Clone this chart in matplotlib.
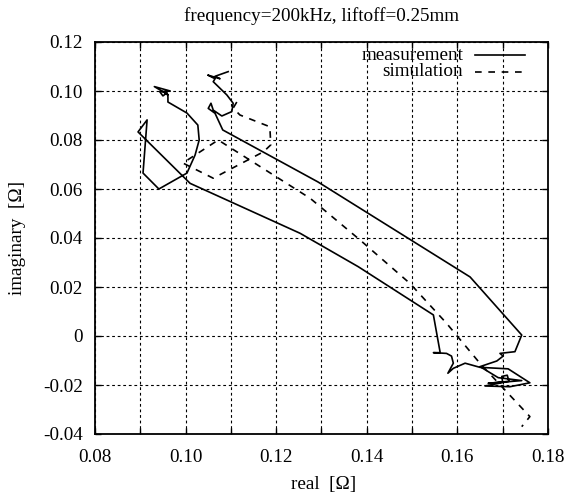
import matplotlib
matplotlib.use("Agg")
import matplotlib.pyplot as plt
from matplotlib.lines import Line2D

# ---- data ----
meas_real = [0.0961, 0.0931, 0.0966, 0.0943, 0.0950, 0.0959, 0.0961, 0.0961, 0.1003, 0.1027,
             0.1030, 0.1021, 0.1003, 0.0941, 0.0906, 0.0915, 0.0895, 0.1010, 0.1253, 0.1381,
             0.1547, 0.1562, 0.1547, 0.1576, 0.1587, 0.1591, 0.1579, 0.1591, 0.1617, 0.1650,
             0.1712, 0.1760, 0.1716, 0.1661, 0.1700, 0.1698, 0.1710, 0.1714, 0.1668, 0.1742,
             0.1690, 0.1650, 0.1687, 0.1701, 0.1694, 0.1727, 0.1742, 0.1628, 0.1292, 0.1082,
             0.1065, 0.1050, 0.1056, 0.1061, 0.1080, 0.1102, 0.1105, 0.1091, 0.1061, 0.1065,
             0.1049, 0.1076, 0.1065, 0.1094]
meas_imag = [0.0985, 0.1018, 0.1000, 0.0997, 0.0980, 0.0993, 0.0977, 0.0955, 0.0910, 0.0861,
             0.0800, 0.0739, 0.0665, 0.0600, 0.0665, 0.0882, 0.0833, 0.0623, 0.0419, 0.0283,
             0.0086, -0.0068, -0.0068, -0.0071, -0.0082, -0.0111, -0.0152, -0.0132, -0.0111, -0.0128,
             -0.0134, -0.0191, -0.0207, -0.0204, -0.0190, -0.0165, -0.0160, -0.0185, -0.0193, -0.0182,
             -0.0170, -0.0125, -0.0102, -0.0082, -0.0071, -0.0064, 0.0004, 0.0241, 0.0629, 0.0841,
             0.0909, 0.0929, 0.0950, 0.0922, 0.0898, 0.0916, 0.0950, 0.0984, 0.1038, 0.1050,
             0.1065, 0.1050, 0.1060, 0.1079]

sim_real = [0.1113, 0.1105, 0.1120, 0.1186, 0.1188, 0.1172, 0.1061, 0.0994, 0.1072, 0.1275,
            0.1385, 0.1495, 0.1576, 0.1650, 0.1760, 0.1742]
sim_imag = [0.0955, 0.0930, 0.0902, 0.0854, 0.0780, 0.0752, 0.0644, 0.0706, 0.0800, 0.0562,
            0.0392, 0.0215, 0.0052, -0.0112, -0.0329, -0.0370]

series_labels = ["measurement", "simulation"]

x_ticks = [0.08, 0.09, 0.10, 0.11, 0.12, 0.13, 0.14, 0.15, 0.16, 0.17, 0.18]
x_ticklabels = ["0.08", "", "0.10", "", "0.12", "", "0.14", "", "0.16", "", "0.18"]
y_ticks = [0.12, 0.10, 0.08, 0.06, 0.04, 0.02, 0.0, -0.02, -0.04]
y_ticklabels = ["0.12", "0.10", "0.08", "0.06", "0.04", "0.02", "0", "-0.02", "-0.04"]

title = "frequency=200kHz, liftoff=0.25mm"
xlabel = "real  [\u03a9]"
ylabel = "imaginary  [\u03a9]"

# ---- plot ----
plt.rcParams['font.family'] = ['Liberation Serif', 'DejaVu Serif']
FS = 13.8
plt.rcParams['font.size'] = FS

W, H = 565, 499
fig = plt.figure(figsize=(W / 100, H / 100), dpi=100)
ax = fig.add_axes([95 / W, 1 - 434 / H, 453 / W, 392 / H])

styles = [dict(color='black', lw=1.2),
          dict(color='black', lw=1.2, dashes=(4, 4))]
ax.plot(meas_real, meas_imag, label=series_labels[0], **styles[0])
ax.plot(sim_real, sim_imag, label=series_labels[1], **styles[1])

ax.set_xlim(0.08, 0.18)
ax.set_ylim(-0.04, 0.12)
ax.set_xticks(x_ticks)
ax.set_xticklabels(x_ticklabels)
ax.set_yticks(y_ticks)
ax.set_yticklabels(y_ticklabels)
ax.tick_params(direction='in', top=True, right=True, length=4, width=1, labelsize=FS)
ax.tick_params(axis='x', pad=11)
ax.tick_params(axis='y', pad=9)
ax.grid(True, color='black', lw=0.8, linestyle=(0, (2.5, 2.5)))
for s in ax.spines.values():
    s.set_linewidth(1.3)

ax.set_xlabel(xlabel, fontsize=FS)
ax.xaxis.set_label_coords((324 - 95) / 453, -(485 - 434) / 392)
ax.xaxis.label.set_va('center')
ax.set_ylabel(ylabel, fontsize=FS)
ax.yaxis.set_label_coords(-(95 - 18) / 453, 0.5)
ax.yaxis.label.set_va('center')
fig.text(322 / W, 1 - 16 / H, title, ha='center', va='center', fontsize=FS)

# gnuplot-style key: text right-aligned, line sample on the right
key_rows = [55, 72]
for lab, st, yrow in zip(series_labels, styles, key_rows):
    fig.text(463 / W, 1 - yrow / H, lab, ha='right', va='center', fontsize=FS)
    fig.add_artist(Line2D([475 / W, 525 / W], [1 - yrow / H, 1 - yrow / H],
                          transform=fig.transFigure, **st))

fig.savefig("out.png", dpi=100)
